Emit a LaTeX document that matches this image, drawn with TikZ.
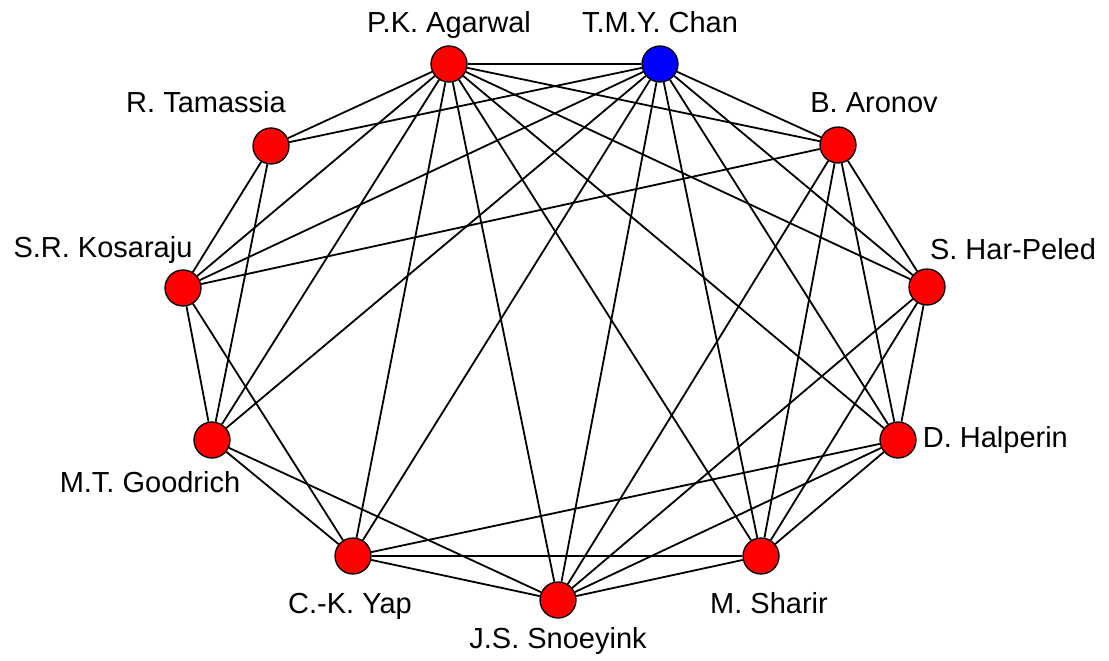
\documentclass[tikz,border=0pt]{standalone}
\usepackage{fontspec}
\setmainfont{Liberation Sans}
\usepackage{tikz}
\usetikzlibrary{positioning}

\begin{document}
\begin{tikzpicture}[x=1pt, y=-1pt]
\tikzstyle{author} = [circle, draw, fill=red, line width=1.3pt, minimum size=36pt, inner sep=0pt]
\tikzstyle{chanauthor} = [author, fill=blue]
\tikzstyle{authname} = [font=\fontsize{29}{34}\selectfont, inner sep=0pt, text height=21pt, text depth=7pt]
\tikzstyle{coauth} = [line width=1.8pt]

\useasboundingbox (0,0) rectangle (1109,661);

% authors
\node (agarwal) [author] at (449,64) {};
\node (chan) [chanauthor] at (660,64) {};
\node (aronov) [author] at (838,145) {};
\node (harpeled) [author] at (927,287) {};
\node (halperin) [author] at (898,440) {};
\node (sharir) [author] at (761,556) {};
\node (snoeyink) [author] at (558,600) {};
\node (yap) [author] at (353,556) {};
\node (goodrich) [author] at (212,440) {};
\node (kosaraju) [author] at (183,288) {};
\node (tamassia) [author] at (271,146) {};

% names
\node (lblagarwal) [authname, above=6pt of agarwal] {P.K. Agarwal};
\node (lblchan) [authname, above=6pt of chan] {T.M.Y. Chan};
\node (lblaronov) [authname, anchor=base] at (874,113) {B. Aronov};
\node (lblharpeled) [authname, anchor=base] at (1013,259) {S. Har-Peled};
\node (lblhalperin) [authname, right=6pt of halperin] {D. Halperin};
\node (lblsharir) [authname, anchor=base] at (769,613) {M. Sharir};
\node (lblsnoeyink) [authname, below=9pt of snoeyink] {J.S. Snoeyink};
\node (lblyap) [authname, anchor=base] at (350,613) {C.-K. Yap};
\node (lblgoodrich) [authname, anchor=base] at (150,492) {M.T. Goodrich};
\node (lblkosaraju) [authname, anchor=base] at (103,257) {S.R. Kosaraju};
\node (lbltamassia) [authname, anchor=base] at (206,113) {R. Tamassia};

% co-authorships
\foreach \u/\v in {agarwal/chan, agarwal/tamassia, agarwal/kosaraju, agarwal/goodrich,
    agarwal/yap, agarwal/snoeyink, agarwal/sharir, agarwal/halperin, agarwal/harpeled,
    agarwal/aronov, chan/tamassia, chan/kosaraju, chan/goodrich, chan/yap, chan/snoeyink,
    chan/sharir, chan/halperin, chan/harpeled, chan/aronov, tamassia/kosaraju,
    tamassia/goodrich, kosaraju/aronov, kosaraju/goodrich, kosaraju/yap, goodrich/yap,
    goodrich/snoeyink, yap/halperin, yap/sharir, yap/snoeyink, snoeyink/aronov,
    snoeyink/harpeled, snoeyink/halperin, snoeyink/sharir, sharir/aronov,
    sharir/harpeled, sharir/halperin, halperin/aronov, halperin/harpeled,
    harpeled/aronov}
  \draw [coauth] (\u) -- (\v);

\end{tikzpicture}
\end{document}
